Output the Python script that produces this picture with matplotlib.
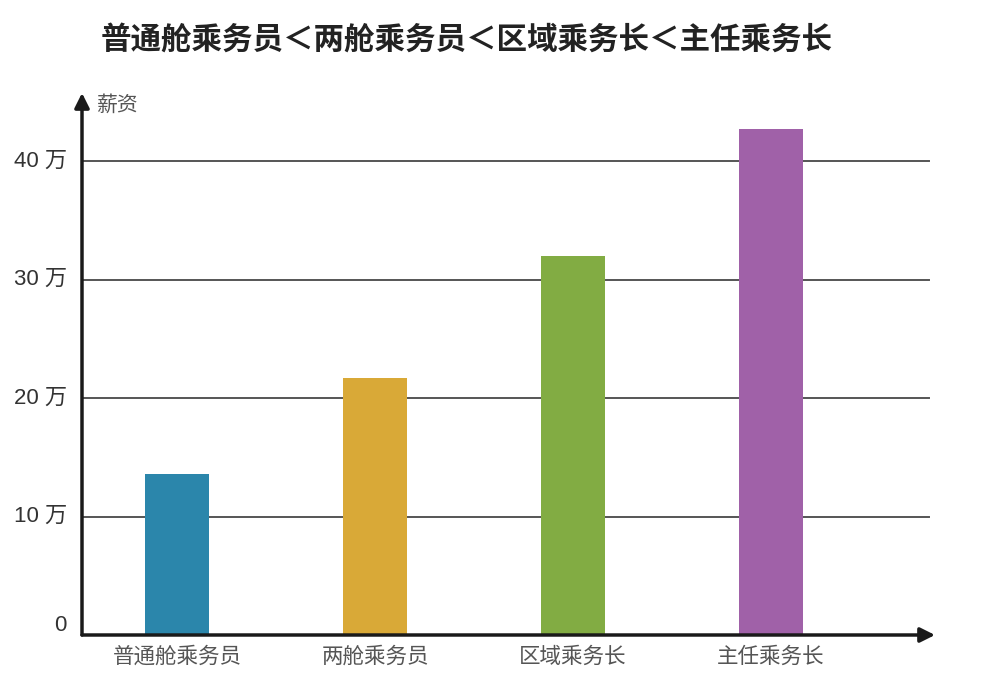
import matplotlib
matplotlib.use("Agg")
import matplotlib.pyplot as plt

plt.rcParams['font.family'] = ['Noto Sans CJK SC', 'DejaVu Sans']

categories = ["普通舱乘务员", "两舱乘务员", "区域乘务长", "主任乘务长"]
salaries = [13.6, 21.7, 32.0, 42.7]  # 万
colors = ["#2B86AB", "#D9A937", "#82AC43", "#A061A8"]
ytick_values = [0, 10, 20, 30, 40]
ytick_labels = ["0", "10 万", "20 万", "30 万", "40 万"]
title = "普通舱乘务员＜两舱乘务员＜区域乘务长＜主任乘务长"
ylabel = "薪资"

W, H = 985, 699
fig = plt.figure(figsize=(W / 100, H / 100), dpi=100)
ax = fig.add_axes([82 / W, (H - 635) / H, (935 - 82) / W, (635 - 93) / H])

x = list(range(len(categories)))
ax.bar(x, salaries, width=0.32, color=colors, linewidth=0, zorder=3)

ax.set_xlim(-0.48, 3.828)
ax.set_ylim(0, 45.74)

for v in ytick_values[1:]:
    ax.axhline(v, xmin=0.002, xmax=0.993, color="#555555", lw=1.4, zorder=1)

for s in ax.spines.values():
    s.set_visible(False)

ax.set_yticks([])
ax.set_xticks(x)
ax.set_xticklabels(categories, fontsize=15.5, color="#555555")
ax.tick_params(axis="x", length=0, pad=8)

for v, lab in zip(ytick_values, ytick_labels):
    dy = 0.8 if v == 0 else 0
    ax.text(-0.0176, v + dy, lab, transform=ax.get_yaxis_transform(), ha="right", va="center",
            fontsize=16, color="#333333", family=['Liberation Sans', 'Noto Sans CJK SC'])

# axes arrows
ax.annotate("", xy=(1, 0), xytext=(0, 0), xycoords="axes fraction",
            arrowprops=dict(arrowstyle="-|>", color="#1a1a1a", lw=2.5, mutation_scale=22,
                            shrinkA=0, shrinkB=0), zorder=5, annotation_clip=False)
ax.annotate("", xy=(0, 1), xytext=(0, 0), xycoords="axes fraction",
            arrowprops=dict(arrowstyle="-|>", color="#1a1a1a", lw=2.5, mutation_scale=22,
                            shrinkA=0, shrinkB=0), zorder=5, annotation_clip=False)

ax.text((97 - 82) / 853, (635 - 105) / 542, ylabel, transform=ax.transAxes, ha="left", va="center",
        fontsize=15, color="#555555")

fig.text(467 / W, 1 - 40 / H, title, ha="center", va="center", fontsize=22,
         fontweight="bold", color="#222222")

fig.savefig("out.png", dpi=100)
